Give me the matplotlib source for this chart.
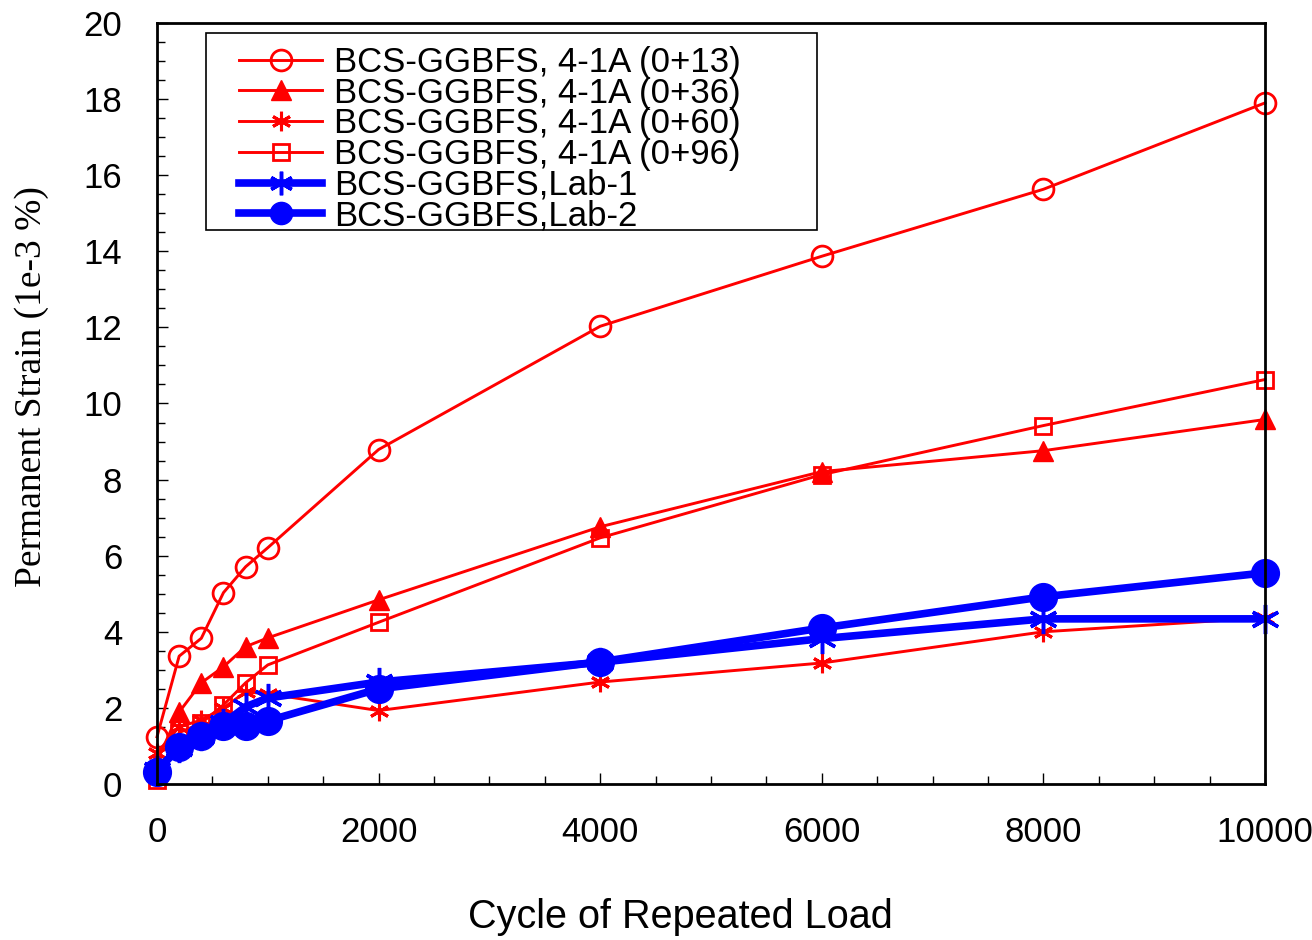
import matplotlib
matplotlib.use("Agg")
import matplotlib.pyplot as plt
from matplotlib.patches import Rectangle
from matplotlib.ticker import MultipleLocator

plt.rcParams["font.family"] = ["Liberation Sans", "DejaVu Sans"]

# load cycles and permanent strain (1e-3 %)
cycles = [0, 200, 400, 600, 800, 1000, 2000, 4000, 6000, 8000, 10000]

strain_013 = [1.24, 3.36, 3.83, 5.03, 5.71, 6.21, 8.79, 12.03, 13.87, 15.63, 17.9]
strain_036 = [0.6, 1.89, 2.66, 3.08, 3.61, 3.84, 4.84, 6.76, 8.21, 8.76, 9.58]
strain_060 = [0.82, 1.5, 1.68, 2.0, 2.42, 2.37, 1.93, 2.68, 3.18, 4.0, 4.37]
strain_096 = [0.1, 1.35, 1.6, 2.08, 2.66, 3.13, 4.25, 6.47, 8.13, 9.42, 10.63]
strain_lab1 = [0.37, 0.95, 1.25, 1.6, 2.03, 2.26, 2.68, 3.2, 3.82, 4.34, 4.34]
strain_lab2 = [0.32, 0.98, 1.27, 1.53, 1.53, 1.66, 2.5, 3.21, 4.1, 4.92, 5.55]

labels = [
    "BCS-GGBFS, 4-1A (0+13)",
    "BCS-GGBFS, 4-1A (0+36)",
    "BCS-GGBFS, 4-1A (0+60)",
    "BCS-GGBFS, 4-1A (0+96)",
    "BCS-GGBFS,Lab-1",
    "BCS-GGBFS,Lab-2",
]

RED = "#ff0000"
BLUE = "#0000ff"
ASTER = (6, 2, 0)

fig = plt.figure(figsize=(13.12, 9.4), dpi=100)
ax = fig.add_axes([157 / 1312, 1 - 784 / 940, 1108 / 1312, 761 / 940])

lines = []
lines += ax.plot(cycles, strain_013, color=RED, lw=2.1, marker="o", ms=15,
                 mfc="none", mec=RED, mew=2)
lines += ax.plot(cycles, strain_036, color=RED, lw=2.1, marker="^", ms=14,
                 mfc=RED, mec=RED)
lines += ax.plot(cycles, strain_060, color=RED, lw=2.1, marker=ASTER, ms=14,
                 mec=RED, mew=2.2)
lines += ax.plot(cycles, strain_096, color=RED, lw=2.1, marker="s", ms=12,
                 mfc="none", mec=RED, mew=2)
lines += ax.plot(cycles, strain_lab1, color=BLUE, lw=5.5, marker=ASTER, ms=21,
                 mec=BLUE, mew=2.5)
lines += ax.plot(cycles, strain_lab2, color=BLUE, lw=5.5, marker="o", ms=20,
                 mfc=BLUE, mec=BLUE)
for ln in lines:
    ln.set_clip_on(False)

ax.set_xlim(0, 10000)
ax.set_ylim(0, 20)
ax.xaxis.set_major_locator(MultipleLocator(2000))
ax.xaxis.set_minor_locator(MultipleLocator(500))
ax.yaxis.set_major_locator(MultipleLocator(2))
ax.yaxis.set_minor_locator(MultipleLocator(0.5))
ax.tick_params(which="both", direction="in", top=False, right=False, width=1)
ax.tick_params(which="major", length=8, labelsize=25)
ax.tick_params(which="minor", length=5.5)
ax.tick_params(axis="x", pad=23)
ax.tick_params(axis="y", pad=25)
for side in ax.spines:
    ax.spines[side].set_linewidth(2)

ax.set_xlabel("Cycle of Repeated Load", fontsize=28.5)
ax.xaxis.set_label_coords(0.472, -0.175)
ax.xaxis.label.set_va("center")
ax.set_ylabel("Permanent Strain (1e-3 %)", fontsize=27, family="Liberation Serif")
ax.yaxis.set_label_coords(-0.113, 0.522)
ax.yaxis.label.set_va("center")

leg = ax.legend(lines, labels, loc="upper left", bbox_to_anchor=(0.074, 0.970),
                frameon=False, fontsize=25, labelspacing=-0.065,
                handlelength=2.4, handletextpad=0.35, borderpad=0,
                borderaxespad=0)
leg.legend_handles[4].set_markersize(17)
leg.legend_handles[5].set_markersize(16)

# legend box drawn separately so the padding matches the original
ax.add_patch(Rectangle((0.0442, 0.728), 0.5514, 0.2589, transform=ax.transAxes,
                       fill=False, ec="black", lw=1.2, zorder=5))

fig.savefig("out.png", dpi=100)
